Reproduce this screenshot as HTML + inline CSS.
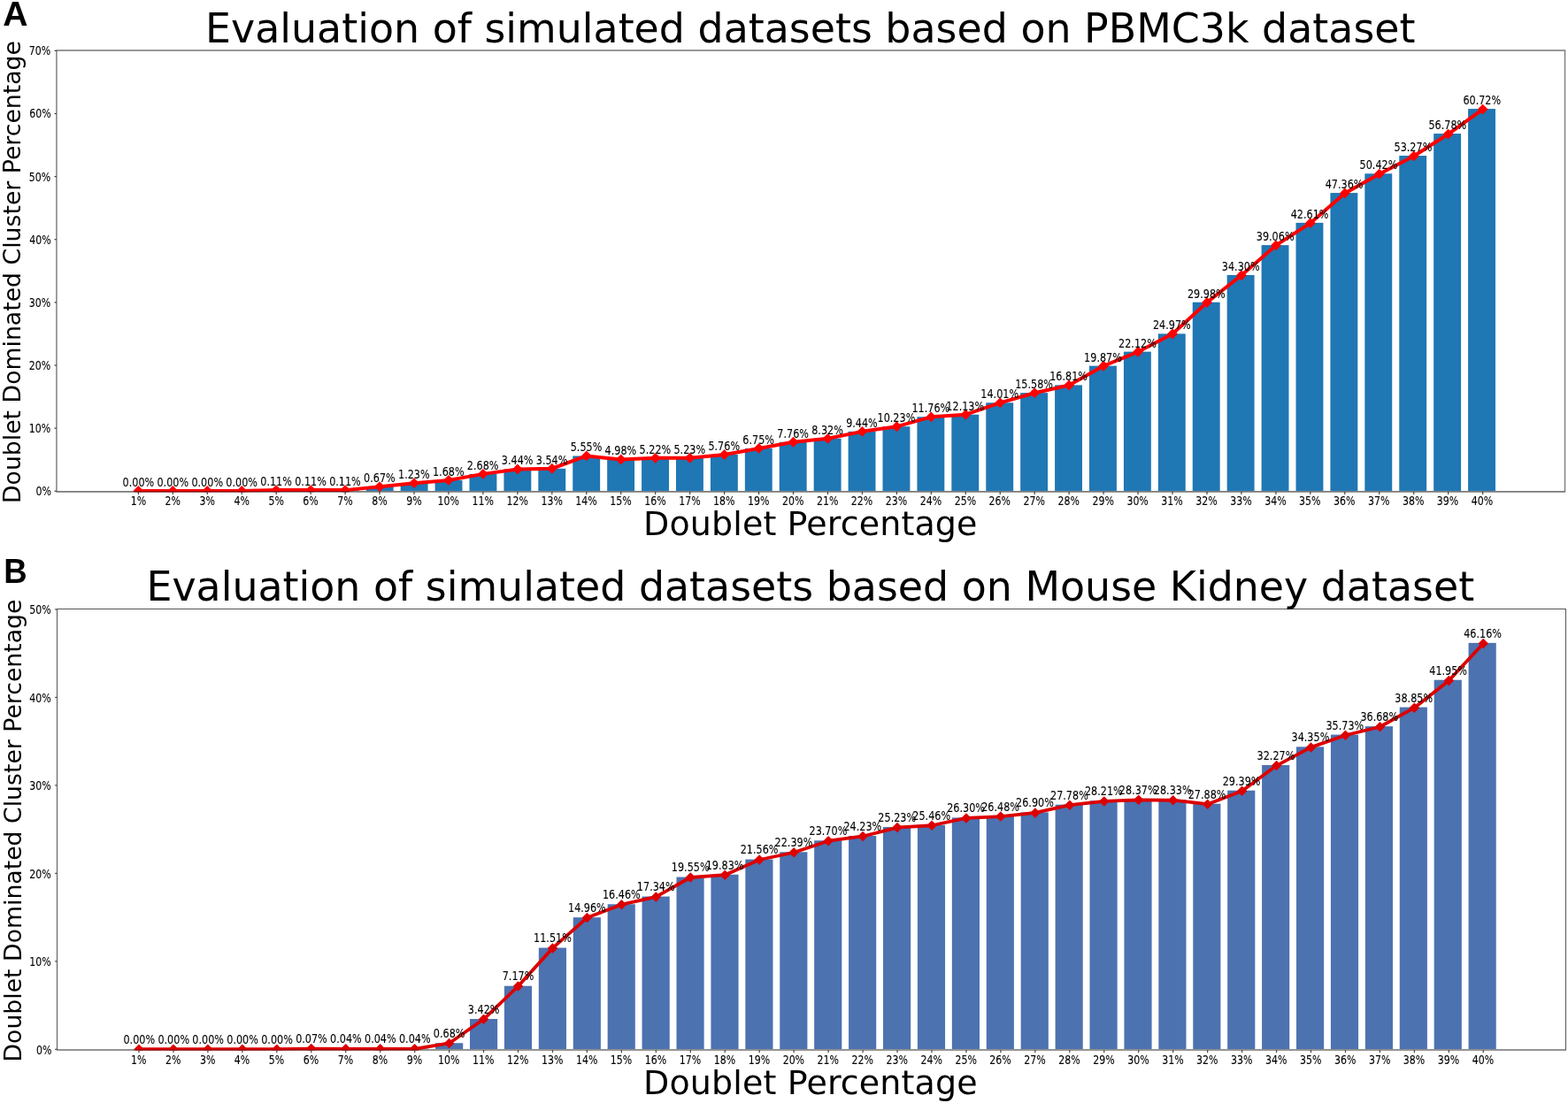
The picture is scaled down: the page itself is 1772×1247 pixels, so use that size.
<!DOCTYPE html>
<html lang="en">
<head>
<meta charset="utf-8">
<title>Evaluation of simulated datasets</title>
<style>
html,body{margin:0;padding:0;background:#fff;}
body{width:1772px;height:1247px;overflow:hidden;}
svg{display:block;}
text{font-family:"DejaVu Sans","Liberation Sans",sans-serif;fill:#000;}
.sm text{fill:#000;stroke:#000;}
.L{font-family:"Liberation Sans","DejaVu Sans",sans-serif;font-weight:bold;}
</style>
</head>
<body>
<svg width="1772" height="1247" viewBox="0 0 1772 1247" role="img" aria-label="Evaluation of simulated datasets: doublet dominated cluster percentage versus doublet percentage">
<rect width="1772" height="1247" fill="#fff"/>
<clipPath id="clip1"><rect x="63.92" y="57.05" width="1704.63" height="499.3"/></clipPath>
<g fill="#1f77b4">
<rect x="297" y="554.17" width="30.9" height="0.78"/>
<rect x="335.92" y="554.17" width="30.9" height="0.78"/>
<rect x="374.83" y="554.17" width="30.9" height="0.78"/>
<rect x="413.75" y="550.18" width="30.9" height="4.77"/>
<rect x="452.67" y="546.2" width="30.9" height="8.75"/>
<rect x="491.58" y="543" width="30.9" height="11.95"/>
<rect x="530.5" y="535.89" width="30.9" height="19.06"/>
<rect x="569.42" y="530.48" width="30.9" height="24.47"/>
<rect x="608.33" y="529.77" width="30.9" height="25.18"/>
<rect x="647.25" y="515.47" width="30.9" height="39.48"/>
<rect x="686.17" y="519.53" width="30.9" height="35.42"/>
<rect x="725.08" y="517.82" width="30.9" height="37.13"/>
<rect x="764" y="517.75" width="30.9" height="37.2"/>
<rect x="802.92" y="513.98" width="30.9" height="40.97"/>
<rect x="841.84" y="506.94" width="30.9" height="48.01"/>
<rect x="880.75" y="499.75" width="30.9" height="55.2"/>
<rect x="919.67" y="495.77" width="30.9" height="59.18"/>
<rect x="958.59" y="487.8" width="30.9" height="67.15"/>
<rect x="997.5" y="482.18" width="30.9" height="72.77"/>
<rect x="1036.42" y="471.3" width="30.9" height="83.65"/>
<rect x="1075.34" y="468.67" width="30.9" height="86.28"/>
<rect x="1114.26" y="455.3" width="30.9" height="99.65"/>
<rect x="1153.17" y="444.13" width="30.9" height="110.82"/>
<rect x="1192.09" y="435.38" width="30.9" height="119.57"/>
<rect x="1231.01" y="413.61" width="30.9" height="141.34"/>
<rect x="1269.92" y="397.61" width="30.9" height="157.34"/>
<rect x="1308.84" y="377.34" width="30.9" height="177.61"/>
<rect x="1347.76" y="341.7" width="30.9" height="213.25"/>
<rect x="1386.67" y="310.97" width="30.9" height="243.98"/>
<rect x="1425.59" y="277.12" width="30.9" height="277.83"/>
<rect x="1464.51" y="251.87" width="30.9" height="303.08"/>
<rect x="1503.42" y="218.08" width="30.9" height="336.87"/>
<rect x="1542.34" y="196.31" width="30.9" height="358.64"/>
<rect x="1581.26" y="176.04" width="30.9" height="378.91"/>
<rect x="1620.18" y="151.07" width="30.9" height="403.88"/>
<rect x="1659.09" y="123.05" width="30.9" height="431.9"/>
</g>
<g stroke="#767676" fill="none">
<line x1="63.22" y1="555.85" x2="1769.2" y2="555.85" stroke-width="1.7" stroke="#7a7a7a"/>
<line x1="63.22" y1="57.05" x2="1769.2" y2="57.05" stroke-width="1.4"/>
<line x1="63.92" y1="57.05" x2="63.92" y2="555.85" stroke-width="1.4"/>
<line x1="1768.55" y1="57.05" x2="1768.55" y2="555.85" stroke-width="1.3"/>
</g>
<g clip-path="url(#clip1)">
<polyline points="156.35,554.9 195.31,554.9 234.26,554.9 273.22,554.9 312.17,554.12 351.13,554.12 390.09,554.12 429.04,550.14 468,546.16 506.95,542.97 545.91,535.86 584.87,530.46 623.82,529.75 662.78,515.47 701.73,519.52 740.69,517.82 779.65,517.75 818.6,513.98 857.56,506.95 896.51,499.77 935.47,495.79 974.43,487.84 1013.38,482.23 1052.34,471.36 1091.29,468.73 1130.25,455.37 1169.21,444.22 1208.16,435.48 1247.12,413.74 1286.07,397.76 1325.03,377.51 1363.99,341.92 1402.94,311.23 1441.9,277.42 1480.85,252.2 1519.81,218.45 1558.77,196.72 1597.72,176.47 1636.68,151.53 1675.63,123.55" fill="none" stroke="#ff0000" stroke-width="4" stroke-linejoin="round" stroke-linecap="butt"/>
<g fill="#ff0000">
<path d="M156.35 549L162.25 554.9L156.35 560.8L150.45 554.9Z"/>
<path d="M195.31 549L201.21 554.9L195.31 560.8L189.41 554.9Z"/>
<path d="M234.26 549L240.16 554.9L234.26 560.8L228.36 554.9Z"/>
<path d="M273.22 549L279.12 554.9L273.22 560.8L267.32 554.9Z"/>
<path d="M312.17 548.22L318.07 554.12L312.17 560.02L306.27 554.12Z"/>
<path d="M351.13 548.22L357.03 554.12L351.13 560.02L345.23 554.12Z"/>
<path d="M390.09 548.22L395.99 554.12L390.09 560.02L384.19 554.12Z"/>
<path d="M429.04 544.24L434.94 550.14L429.04 556.04L423.14 550.14Z"/>
<path d="M468 540.26L473.9 546.16L468 552.06L462.1 546.16Z"/>
<path d="M506.95 537.07L512.85 542.97L506.95 548.87L501.05 542.97Z"/>
<path d="M545.91 529.96L551.81 535.86L545.91 541.76L540.01 535.86Z"/>
<path d="M584.87 524.56L590.77 530.46L584.87 536.36L578.97 530.46Z"/>
<path d="M623.82 523.85L629.72 529.75L623.82 535.65L617.92 529.75Z"/>
<path d="M662.78 509.57L668.68 515.47L662.78 521.37L656.88 515.47Z"/>
<path d="M701.73 513.62L707.63 519.52L701.73 525.42L695.83 519.52Z"/>
<path d="M740.69 511.92L746.59 517.82L740.69 523.72L734.79 517.82Z"/>
<path d="M779.65 511.85L785.55 517.75L779.65 523.65L773.75 517.75Z"/>
<path d="M818.6 508.08L824.5 513.98L818.6 519.88L812.7 513.98Z"/>
<path d="M857.56 501.05L863.46 506.95L857.56 512.85L851.66 506.95Z"/>
<path d="M896.51 493.87L902.41 499.77L896.51 505.67L890.61 499.77Z"/>
<path d="M935.47 489.89L941.37 495.79L935.47 501.69L929.57 495.79Z"/>
<path d="M974.43 481.94L980.33 487.84L974.43 493.74L968.53 487.84Z"/>
<path d="M1013.38 476.33L1019.28 482.23L1013.38 488.13L1007.48 482.23Z"/>
<path d="M1052.34 465.46L1058.24 471.36L1052.34 477.26L1046.44 471.36Z"/>
<path d="M1091.29 462.83L1097.19 468.73L1091.29 474.63L1085.39 468.73Z"/>
<path d="M1130.25 449.47L1136.15 455.37L1130.25 461.27L1124.35 455.37Z"/>
<path d="M1169.21 438.32L1175.11 444.22L1169.21 450.12L1163.31 444.22Z"/>
<path d="M1208.16 429.58L1214.06 435.48L1208.16 441.38L1202.26 435.48Z"/>
<path d="M1247.12 407.84L1253.02 413.74L1247.12 419.64L1241.22 413.74Z"/>
<path d="M1286.07 391.86L1291.97 397.76L1286.07 403.66L1280.17 397.76Z"/>
<path d="M1325.03 371.61L1330.93 377.51L1325.03 383.41L1319.13 377.51Z"/>
<path d="M1363.99 336.02L1369.89 341.92L1363.99 347.82L1358.09 341.92Z"/>
<path d="M1402.94 305.33L1408.84 311.23L1402.94 317.13L1397.04 311.23Z"/>
<path d="M1441.9 271.52L1447.8 277.42L1441.9 283.32L1436 277.42Z"/>
<path d="M1480.85 246.3L1486.75 252.2L1480.85 258.1L1474.95 252.2Z"/>
<path d="M1519.81 212.55L1525.71 218.45L1519.81 224.35L1513.91 218.45Z"/>
<path d="M1558.77 190.82L1564.67 196.72L1558.77 202.62L1552.87 196.72Z"/>
<path d="M1597.72 170.57L1603.62 176.47L1597.72 182.37L1591.82 176.47Z"/>
<path d="M1636.68 145.63L1642.58 151.53L1636.68 157.43L1630.78 151.53Z"/>
<path d="M1675.63 117.65L1681.53 123.55L1675.63 129.45L1669.73 123.55Z"/>
</g></g>
<clipPath id="band1"><rect x="63.92" y="555.25" width="1704.63" height="1.09"/></clipPath>
<g clip-path="url(#band1)" opacity="0.45">
<polyline points="156.35,554.9 195.31,554.9 234.26,554.9 273.22,554.9 312.17,554.12 351.13,554.12 390.09,554.12 429.04,550.14 468,546.16 506.95,542.97 545.91,535.86 584.87,530.46 623.82,529.75 662.78,515.47 701.73,519.52 740.69,517.82 779.65,517.75 818.6,513.98 857.56,506.95 896.51,499.77 935.47,495.79 974.43,487.84 1013.38,482.23 1052.34,471.36 1091.29,468.73 1130.25,455.37 1169.21,444.22 1208.16,435.48 1247.12,413.74 1286.07,397.76 1325.03,377.51 1363.99,341.92 1402.94,311.23 1441.9,277.42 1480.85,252.2 1519.81,218.45 1558.77,196.72 1597.72,176.47 1636.68,151.53 1675.63,123.55" fill="none" stroke="#000" stroke-width="4" stroke-linejoin="round"/>
<path d="M156.35 549L162.25 554.9L156.35 560.8L150.45 554.9Z"/>
<path d="M195.31 549L201.21 554.9L195.31 560.8L189.41 554.9Z"/>
<path d="M234.26 549L240.16 554.9L234.26 560.8L228.36 554.9Z"/>
<path d="M273.22 549L279.12 554.9L273.22 560.8L267.32 554.9Z"/>
<path d="M312.17 548.22L318.07 554.12L312.17 560.02L306.27 554.12Z"/>
<path d="M351.13 548.22L357.03 554.12L351.13 560.02L345.23 554.12Z"/>
<path d="M390.09 548.22L395.99 554.12L390.09 560.02L384.19 554.12Z"/>
<path d="M429.04 544.24L434.94 550.14L429.04 556.04L423.14 550.14Z"/>
</g>
<g stroke="#404040" stroke-width="1.2">
<line x1="156.35" y1="555.85" x2="156.35" y2="559.05"/>
<line x1="195.31" y1="555.85" x2="195.31" y2="559.05"/>
<line x1="234.26" y1="555.85" x2="234.26" y2="559.05"/>
<line x1="273.22" y1="555.85" x2="273.22" y2="559.05"/>
<line x1="312.17" y1="555.85" x2="312.17" y2="559.05"/>
<line x1="351.13" y1="555.85" x2="351.13" y2="559.05"/>
<line x1="390.09" y1="555.85" x2="390.09" y2="559.05"/>
<line x1="429.04" y1="555.85" x2="429.04" y2="559.05"/>
<line x1="468" y1="555.85" x2="468" y2="559.05"/>
<line x1="506.95" y1="555.85" x2="506.95" y2="559.05"/>
<line x1="545.91" y1="555.85" x2="545.91" y2="559.05"/>
<line x1="584.87" y1="555.85" x2="584.87" y2="559.05"/>
<line x1="623.82" y1="555.85" x2="623.82" y2="559.05"/>
<line x1="662.78" y1="555.85" x2="662.78" y2="559.05"/>
<line x1="701.73" y1="555.85" x2="701.73" y2="559.05"/>
<line x1="740.69" y1="555.85" x2="740.69" y2="559.05"/>
<line x1="779.65" y1="555.85" x2="779.65" y2="559.05"/>
<line x1="818.6" y1="555.85" x2="818.6" y2="559.05"/>
<line x1="857.56" y1="555.85" x2="857.56" y2="559.05"/>
<line x1="896.51" y1="555.85" x2="896.51" y2="559.05"/>
<line x1="935.47" y1="555.85" x2="935.47" y2="559.05"/>
<line x1="974.43" y1="555.85" x2="974.43" y2="559.05"/>
<line x1="1013.38" y1="555.85" x2="1013.38" y2="559.05"/>
<line x1="1052.34" y1="555.85" x2="1052.34" y2="559.05"/>
<line x1="1091.29" y1="555.85" x2="1091.29" y2="559.05"/>
<line x1="1130.25" y1="555.85" x2="1130.25" y2="559.05"/>
<line x1="1169.21" y1="555.85" x2="1169.21" y2="559.05"/>
<line x1="1208.16" y1="555.85" x2="1208.16" y2="559.05"/>
<line x1="1247.12" y1="555.85" x2="1247.12" y2="559.05"/>
<line x1="1286.07" y1="555.85" x2="1286.07" y2="559.05"/>
<line x1="1325.03" y1="555.85" x2="1325.03" y2="559.05"/>
<line x1="1363.99" y1="555.85" x2="1363.99" y2="559.05"/>
<line x1="1402.94" y1="555.85" x2="1402.94" y2="559.05"/>
<line x1="1441.9" y1="555.85" x2="1441.9" y2="559.05"/>
<line x1="1480.85" y1="555.85" x2="1480.85" y2="559.05"/>
<line x1="1519.81" y1="555.85" x2="1519.81" y2="559.05"/>
<line x1="1558.77" y1="555.85" x2="1558.77" y2="559.05"/>
<line x1="1597.72" y1="555.85" x2="1597.72" y2="559.05"/>
<line x1="1636.68" y1="555.85" x2="1636.68" y2="559.05"/>
<line x1="1675.63" y1="555.85" x2="1675.63" y2="559.05"/>
<line x1="61.52" y1="555.25" x2="63.92" y2="555.25"/>
<line x1="61.52" y1="484.12" x2="63.92" y2="484.12"/>
<line x1="61.52" y1="412.99" x2="63.92" y2="412.99"/>
<line x1="61.52" y1="341.86" x2="63.92" y2="341.86"/>
<line x1="61.52" y1="270.73" x2="63.92" y2="270.73"/>
<line x1="61.52" y1="199.6" x2="63.92" y2="199.6"/>
<line x1="61.52" y1="128.47" x2="63.92" y2="128.47"/>
<line x1="61.52" y1="57.34" x2="63.92" y2="57.34"/>
</g>
<g class="sm" font-size="13.2" stroke-width="0.1">
<text transform="translate(156.35 570.75) scale(0.834 1)" text-anchor="middle">1%</text>
<text transform="translate(195.29 570.75) scale(0.834 1)" text-anchor="middle">2%</text>
<text transform="translate(234.23 570.75) scale(0.834 1)" text-anchor="middle">3%</text>
<text transform="translate(273.17 570.75) scale(0.834 1)" text-anchor="middle">4%</text>
<text transform="translate(312.11 570.75) scale(0.834 1)" text-anchor="middle">5%</text>
<text transform="translate(351.05 570.75) scale(0.834 1)" text-anchor="middle">6%</text>
<text transform="translate(389.99 570.75) scale(0.834 1)" text-anchor="middle">7%</text>
<text transform="translate(428.93 570.75) scale(0.834 1)" text-anchor="middle">8%</text>
<text transform="translate(467.87 570.75) scale(0.834 1)" text-anchor="middle">9%</text>
<text transform="translate(506.81 570.75) scale(0.834 1)" text-anchor="middle">10%</text>
<text transform="translate(545.75 570.75) scale(0.834 1)" text-anchor="middle">11%</text>
<text transform="translate(584.69 570.75) scale(0.834 1)" text-anchor="middle">12%</text>
<text transform="translate(623.63 570.75) scale(0.834 1)" text-anchor="middle">13%</text>
<text transform="translate(662.57 570.75) scale(0.834 1)" text-anchor="middle">14%</text>
<text transform="translate(701.51 570.75) scale(0.834 1)" text-anchor="middle">15%</text>
<text transform="translate(740.45 570.75) scale(0.834 1)" text-anchor="middle">16%</text>
<text transform="translate(779.39 570.75) scale(0.834 1)" text-anchor="middle">17%</text>
<text transform="translate(818.33 570.75) scale(0.834 1)" text-anchor="middle">18%</text>
<text transform="translate(857.27 570.75) scale(0.834 1)" text-anchor="middle">19%</text>
<text transform="translate(896.21 570.75) scale(0.834 1)" text-anchor="middle">20%</text>
<text transform="translate(935.15 570.75) scale(0.834 1)" text-anchor="middle">21%</text>
<text transform="translate(974.09 570.75) scale(0.834 1)" text-anchor="middle">22%</text>
<text transform="translate(1013.03 570.75) scale(0.834 1)" text-anchor="middle">23%</text>
<text transform="translate(1051.97 570.75) scale(0.834 1)" text-anchor="middle">24%</text>
<text transform="translate(1090.91 570.75) scale(0.834 1)" text-anchor="middle">25%</text>
<text transform="translate(1129.85 570.75) scale(0.834 1)" text-anchor="middle">26%</text>
<text transform="translate(1168.79 570.75) scale(0.834 1)" text-anchor="middle">27%</text>
<text transform="translate(1207.73 570.75) scale(0.834 1)" text-anchor="middle">28%</text>
<text transform="translate(1246.67 570.75) scale(0.834 1)" text-anchor="middle">29%</text>
<text transform="translate(1285.61 570.75) scale(0.834 1)" text-anchor="middle">30%</text>
<text transform="translate(1324.55 570.75) scale(0.834 1)" text-anchor="middle">31%</text>
<text transform="translate(1363.49 570.75) scale(0.834 1)" text-anchor="middle">32%</text>
<text transform="translate(1402.43 570.75) scale(0.834 1)" text-anchor="middle">33%</text>
<text transform="translate(1441.37 570.75) scale(0.834 1)" text-anchor="middle">34%</text>
<text transform="translate(1480.31 570.75) scale(0.834 1)" text-anchor="middle">35%</text>
<text transform="translate(1519.25 570.75) scale(0.834 1)" text-anchor="middle">36%</text>
<text transform="translate(1558.19 570.75) scale(0.834 1)" text-anchor="middle">37%</text>
<text transform="translate(1597.13 570.75) scale(0.834 1)" text-anchor="middle">38%</text>
<text transform="translate(1636.07 570.75) scale(0.834 1)" text-anchor="middle">39%</text>
<text transform="translate(1675.01 570.75) scale(0.834 1)" text-anchor="middle">40%</text>
<text transform="translate(58 560.15) scale(0.834 1)" text-anchor="end">0%</text>
<text transform="translate(57.2 489.02) scale(0.834 1)" text-anchor="end">10%</text>
<text transform="translate(57.2 417.89) scale(0.834 1)" text-anchor="end">20%</text>
<text transform="translate(57.2 346.76) scale(0.834 1)" text-anchor="end">30%</text>
<text transform="translate(57.6 275.63) scale(0.834 1)" text-anchor="end">40%</text>
<text transform="translate(57.2 204.5) scale(0.834 1)" text-anchor="end">50%</text>
<text transform="translate(57.6 133.37) scale(0.834 1)" text-anchor="end">60%</text>
<text transform="translate(57.2 62.24) scale(0.834 1)" text-anchor="end">70%</text>
<text transform="translate(156.35 549.9) scale(0.850 1)" text-anchor="middle">0.00%</text>
<text transform="translate(195.28 549.9) scale(0.850 1)" text-anchor="middle">0.00%</text>
<text transform="translate(234.22 549.9) scale(0.850 1)" text-anchor="middle">0.00%</text>
<text transform="translate(273.15 549.9) scale(0.850 1)" text-anchor="middle">0.00%</text>
<text transform="translate(312.09 549.12) scale(0.850 1)" text-anchor="middle">0.11%</text>
<text transform="translate(351.02 549.12) scale(0.850 1)" text-anchor="middle">0.11%</text>
<text transform="translate(389.95 549.12) scale(0.850 1)" text-anchor="middle">0.11%</text>
<text transform="translate(428.89 545.14) scale(0.850 1)" text-anchor="middle">0.67%</text>
<text transform="translate(467.82 541.15) scale(0.850 1)" text-anchor="middle">1.23%</text>
<text transform="translate(506.76 537.95) scale(0.850 1)" text-anchor="middle">1.68%</text>
<text transform="translate(545.69 530.84) scale(0.850 1)" text-anchor="middle">2.68%</text>
<text transform="translate(584.62 525.44) scale(0.850 1)" text-anchor="middle">3.44%</text>
<text transform="translate(623.56 524.73) scale(0.850 1)" text-anchor="middle">3.54%</text>
<text transform="translate(662.49 510.43) scale(0.850 1)" text-anchor="middle">5.55%</text>
<text transform="translate(701.43 514.49) scale(0.850 1)" text-anchor="middle">4.98%</text>
<text transform="translate(740.36 512.78) scale(0.850 1)" text-anchor="middle">5.22%</text>
<text transform="translate(779.29 512.71) scale(0.850 1)" text-anchor="middle">5.23%</text>
<text transform="translate(818.23 508.94) scale(0.850 1)" text-anchor="middle">5.76%</text>
<text transform="translate(857.16 501.9) scale(0.850 1)" text-anchor="middle">6.75%</text>
<text transform="translate(896.1 494.72) scale(0.850 1)" text-anchor="middle">7.76%</text>
<text transform="translate(935.03 490.74) scale(0.850 1)" text-anchor="middle">8.32%</text>
<text transform="translate(973.96 482.77) scale(0.850 1)" text-anchor="middle">9.44%</text>
<text transform="translate(1012.9 477.15) scale(0.850 1)" text-anchor="middle">10.23%</text>
<text transform="translate(1051.83 466.27) scale(0.850 1)" text-anchor="middle">11.76%</text>
<text transform="translate(1090.77 463.64) scale(0.850 1)" text-anchor="middle">12.13%</text>
<text transform="translate(1129.7 450.27) scale(0.850 1)" text-anchor="middle">14.01%</text>
<text transform="translate(1168.63 439.11) scale(0.850 1)" text-anchor="middle">15.58%</text>
<text transform="translate(1207.57 430.36) scale(0.850 1)" text-anchor="middle">16.81%</text>
<text transform="translate(1246.5 408.6) scale(0.850 1)" text-anchor="middle">19.87%</text>
<text transform="translate(1285.44 392.6) scale(0.850 1)" text-anchor="middle">22.12%</text>
<text transform="translate(1324.37 372.34) scale(0.850 1)" text-anchor="middle">24.97%</text>
<text transform="translate(1363.3 336.71) scale(0.850 1)" text-anchor="middle">29.98%</text>
<text transform="translate(1402.24 305.99) scale(0.850 1)" text-anchor="middle">34.30%</text>
<text transform="translate(1441.17 272.14) scale(0.850 1)" text-anchor="middle">39.06%</text>
<text transform="translate(1480.11 246.9) scale(0.850 1)" text-anchor="middle">42.61%</text>
<text transform="translate(1519.04 213.12) scale(0.850 1)" text-anchor="middle">47.36%</text>
<text transform="translate(1557.97 191.36) scale(0.850 1)" text-anchor="middle">50.42%</text>
<text transform="translate(1596.91 171.1) scale(0.850 1)" text-anchor="middle">53.27%</text>
<text transform="translate(1635.84 146.14) scale(0.850 1)" text-anchor="middle">56.78%</text>
<text transform="translate(1674.78 118.12) scale(0.850 1)" text-anchor="middle">60.72%</text>
</g>
<text class="t" x="915.8" y="47.75" font-size="45.87" text-anchor="middle">Evaluation of simulated datasets based on PBMC3k dataset</text>
<text class="t" x="915.8" y="604.9" font-size="38" letter-spacing="0.12" text-anchor="middle">Doublet Percentage</text>
<text class="t" transform="translate(23.1 307.5) rotate(-90)" font-size="26.71" text-anchor="middle">Doublet Dominated Cluster Percentage</text>
<clipPath id="clip2"><rect x="64.5" y="688.5" width="1705" height="499"/></clipPath>
<g fill="#4c72b0">
<rect x="336.41" y="1185.3" width="31.15" height="0.8"/>
<rect x="375.33" y="1185.6" width="31.15" height="0.5"/>
<rect x="414.24" y="1185.6" width="31.15" height="0.5"/>
<rect x="453.16" y="1185.6" width="31.15" height="0.5"/>
<rect x="492.08" y="1179.24" width="31.15" height="6.86"/>
<rect x="531" y="1151.98" width="31.15" height="34.12"/>
<rect x="569.91" y="1114.68" width="31.15" height="71.42"/>
<rect x="608.83" y="1071.51" width="31.15" height="114.59"/>
<rect x="647.75" y="1037.19" width="31.15" height="148.91"/>
<rect x="686.66" y="1022.27" width="31.15" height="163.83"/>
<rect x="725.58" y="1013.52" width="31.15" height="172.58"/>
<rect x="764.5" y="991.54" width="31.15" height="194.56"/>
<rect x="803.41" y="988.75" width="31.15" height="197.35"/>
<rect x="842.33" y="971.54" width="31.15" height="214.56"/>
<rect x="881.25" y="963.29" width="31.15" height="222.81"/>
<rect x="920.16" y="950.26" width="31.15" height="235.84"/>
<rect x="959.08" y="944.98" width="31.15" height="241.12"/>
<rect x="998" y="935.04" width="31.15" height="251.06"/>
<rect x="1036.92" y="932.75" width="31.15" height="253.35"/>
<rect x="1075.83" y="924.39" width="31.15" height="261.71"/>
<rect x="1114.75" y="922.6" width="31.15" height="263.5"/>
<rect x="1153.67" y="918.43" width="31.15" height="267.67"/>
<rect x="1192.58" y="909.67" width="31.15" height="276.43"/>
<rect x="1231.5" y="905.4" width="31.15" height="280.7"/>
<rect x="1270.42" y="903.8" width="31.15" height="282.3"/>
<rect x="1309.34" y="904.2" width="31.15" height="281.9"/>
<rect x="1348.25" y="908.68" width="31.15" height="277.42"/>
<rect x="1387.17" y="893.66" width="31.15" height="292.44"/>
<rect x="1426.09" y="865.01" width="31.15" height="321.09"/>
<rect x="1465" y="844.32" width="31.15" height="341.78"/>
<rect x="1503.92" y="830.59" width="31.15" height="355.51"/>
<rect x="1542.84" y="821.14" width="31.15" height="364.96"/>
<rect x="1581.75" y="799.56" width="31.15" height="386.54"/>
<rect x="1620.67" y="768.72" width="31.15" height="417.38"/>
<rect x="1659.59" y="726.85" width="31.15" height="459.25"/>
</g>
<g stroke="#555555" fill="none">
<line x1="64" y1="1187" x2="1770" y2="1187" stroke-width="1.5" stroke="#707070"/>
<line x1="64" y1="688.5" x2="1770" y2="688.5" stroke-width="1.1"/>
<line x1="64.5" y1="688.5" x2="64.5" y2="1187" stroke-width="1"/>
<line x1="1769.5" y1="688.5" x2="1769.5" y2="1187" stroke-width="1"/>
</g>
<g clip-path="url(#clip2)">
<polyline points="157,1186.25 195.96,1186.25 234.91,1186.25 273.87,1186.25 312.82,1186.25 351.78,1185.55 390.74,1185.85 429.69,1185.85 468.65,1185.85 507.6,1179.49 546.56,1152.27 585.52,1115 624.47,1071.88 663.43,1037.59 702.38,1022.69 741.34,1013.94 780.3,991.98 819.25,989.2 858.21,972.01 897.16,963.76 936.12,950.74 975.08,945.48 1014.03,935.54 1052.99,933.25 1091.94,924.91 1130.9,923.12 1169.86,918.94 1208.81,910.2 1247.77,905.93 1286.72,904.34 1325.68,904.73 1364.64,909.21 1403.59,894.2 1442.55,865.58 1481.5,844.91 1520.46,831.2 1559.42,821.76 1598.37,800.2 1637.33,769.39 1676.28,727.56" fill="none" stroke="#dc0000" stroke-width="3.8" stroke-linejoin="round" stroke-linecap="butt"/>
<g fill="#dc0000">
<path d="M157 1180.5L162.75 1186.25L157 1192L151.25 1186.25Z"/>
<path d="M195.96 1180.5L201.71 1186.25L195.96 1192L190.21 1186.25Z"/>
<path d="M234.91 1180.5L240.66 1186.25L234.91 1192L229.16 1186.25Z"/>
<path d="M273.87 1180.5L279.62 1186.25L273.87 1192L268.12 1186.25Z"/>
<path d="M312.82 1180.5L318.57 1186.25L312.82 1192L307.07 1186.25Z"/>
<path d="M351.78 1179.8L357.53 1185.55L351.78 1191.3L346.03 1185.55Z"/>
<path d="M390.74 1180.1L396.49 1185.85L390.74 1191.6L384.99 1185.85Z"/>
<path d="M429.69 1180.1L435.44 1185.85L429.69 1191.6L423.94 1185.85Z"/>
<path d="M468.65 1180.1L474.4 1185.85L468.65 1191.6L462.9 1185.85Z"/>
<path d="M507.6 1173.74L513.35 1179.49L507.6 1185.24L501.85 1179.49Z"/>
<path d="M546.56 1146.52L552.31 1152.27L546.56 1158.02L540.81 1152.27Z"/>
<path d="M585.52 1109.25L591.27 1115L585.52 1120.75L579.77 1115Z"/>
<path d="M624.47 1066.13L630.22 1071.88L624.47 1077.63L618.72 1071.88Z"/>
<path d="M663.43 1031.84L669.18 1037.59L663.43 1043.34L657.68 1037.59Z"/>
<path d="M702.38 1016.94L708.13 1022.69L702.38 1028.44L696.63 1022.69Z"/>
<path d="M741.34 1008.19L747.09 1013.94L741.34 1019.69L735.59 1013.94Z"/>
<path d="M780.3 986.23L786.05 991.98L780.3 997.73L774.55 991.98Z"/>
<path d="M819.25 983.45L825 989.2L819.25 994.95L813.5 989.2Z"/>
<path d="M858.21 966.26L863.96 972.01L858.21 977.76L852.46 972.01Z"/>
<path d="M897.16 958.01L902.91 963.76L897.16 969.51L891.41 963.76Z"/>
<path d="M936.12 944.99L941.87 950.74L936.12 956.49L930.37 950.74Z"/>
<path d="M975.08 939.73L980.83 945.48L975.08 951.23L969.33 945.48Z"/>
<path d="M1014.03 929.79L1019.78 935.54L1014.03 941.29L1008.28 935.54Z"/>
<path d="M1052.99 927.5L1058.74 933.25L1052.99 939L1047.24 933.25Z"/>
<path d="M1091.94 919.16L1097.69 924.91L1091.94 930.66L1086.19 924.91Z"/>
<path d="M1130.9 917.37L1136.65 923.12L1130.9 928.87L1125.15 923.12Z"/>
<path d="M1169.86 913.19L1175.61 918.94L1169.86 924.69L1164.11 918.94Z"/>
<path d="M1208.81 904.45L1214.56 910.2L1208.81 915.95L1203.06 910.2Z"/>
<path d="M1247.77 900.18L1253.52 905.93L1247.77 911.68L1242.02 905.93Z"/>
<path d="M1286.72 898.59L1292.47 904.34L1286.72 910.09L1280.97 904.34Z"/>
<path d="M1325.68 898.98L1331.43 904.73L1325.68 910.48L1319.93 904.73Z"/>
<path d="M1364.64 903.46L1370.39 909.21L1364.64 914.96L1358.89 909.21Z"/>
<path d="M1403.59 888.45L1409.34 894.2L1403.59 899.95L1397.84 894.2Z"/>
<path d="M1442.55 859.83L1448.3 865.58L1442.55 871.33L1436.8 865.58Z"/>
<path d="M1481.5 839.16L1487.25 844.91L1481.5 850.66L1475.75 844.91Z"/>
<path d="M1520.46 825.45L1526.21 831.2L1520.46 836.95L1514.71 831.2Z"/>
<path d="M1559.42 816.01L1565.17 821.76L1559.42 827.51L1553.67 821.76Z"/>
<path d="M1598.37 794.45L1604.12 800.2L1598.37 805.95L1592.62 800.2Z"/>
<path d="M1637.33 763.64L1643.08 769.39L1637.33 775.14L1631.58 769.39Z"/>
<path d="M1676.28 721.81L1682.03 727.56L1676.28 733.31L1670.53 727.56Z"/>
</g></g>
<clipPath id="band2"><rect x="64.5" y="1186.47" width="1705" height="1.02"/></clipPath>
<g clip-path="url(#band2)" opacity="0.3">
<polyline points="157,1186.25 195.96,1186.25 234.91,1186.25 273.87,1186.25 312.82,1186.25 351.78,1185.55 390.74,1185.85 429.69,1185.85 468.65,1185.85 507.6,1179.49 546.56,1152.27 585.52,1115 624.47,1071.88 663.43,1037.59 702.38,1022.69 741.34,1013.94 780.3,991.98 819.25,989.2 858.21,972.01 897.16,963.76 936.12,950.74 975.08,945.48 1014.03,935.54 1052.99,933.25 1091.94,924.91 1130.9,923.12 1169.86,918.94 1208.81,910.2 1247.77,905.93 1286.72,904.34 1325.68,904.73 1364.64,909.21 1403.59,894.2 1442.55,865.58 1481.5,844.91 1520.46,831.2 1559.42,821.76 1598.37,800.2 1637.33,769.39 1676.28,727.56" fill="none" stroke="#000" stroke-width="3.8" stroke-linejoin="round"/>
<path d="M157 1180.5L162.75 1186.25L157 1192L151.25 1186.25Z"/>
<path d="M195.96 1180.5L201.71 1186.25L195.96 1192L190.21 1186.25Z"/>
<path d="M234.91 1180.5L240.66 1186.25L234.91 1192L229.16 1186.25Z"/>
<path d="M273.87 1180.5L279.62 1186.25L273.87 1192L268.12 1186.25Z"/>
<path d="M312.82 1180.5L318.57 1186.25L312.82 1192L307.07 1186.25Z"/>
<path d="M351.78 1179.8L357.53 1185.55L351.78 1191.3L346.03 1185.55Z"/>
<path d="M390.74 1180.1L396.49 1185.85L390.74 1191.6L384.99 1185.85Z"/>
<path d="M429.69 1180.1L435.44 1185.85L429.69 1191.6L423.94 1185.85Z"/>
<path d="M468.65 1180.1L474.4 1185.85L468.65 1191.6L462.9 1185.85Z"/>
</g>
<g stroke="#444444" stroke-width="1.2">
<line x1="157" y1="1187" x2="157" y2="1190.2"/>
<line x1="195.96" y1="1187" x2="195.96" y2="1190.2"/>
<line x1="234.91" y1="1187" x2="234.91" y2="1190.2"/>
<line x1="273.87" y1="1187" x2="273.87" y2="1190.2"/>
<line x1="312.82" y1="1187" x2="312.82" y2="1190.2"/>
<line x1="351.78" y1="1187" x2="351.78" y2="1190.2"/>
<line x1="390.74" y1="1187" x2="390.74" y2="1190.2"/>
<line x1="429.69" y1="1187" x2="429.69" y2="1190.2"/>
<line x1="468.65" y1="1187" x2="468.65" y2="1190.2"/>
<line x1="507.6" y1="1187" x2="507.6" y2="1190.2"/>
<line x1="546.56" y1="1187" x2="546.56" y2="1190.2"/>
<line x1="585.52" y1="1187" x2="585.52" y2="1190.2"/>
<line x1="624.47" y1="1187" x2="624.47" y2="1190.2"/>
<line x1="663.43" y1="1187" x2="663.43" y2="1190.2"/>
<line x1="702.38" y1="1187" x2="702.38" y2="1190.2"/>
<line x1="741.34" y1="1187" x2="741.34" y2="1190.2"/>
<line x1="780.3" y1="1187" x2="780.3" y2="1190.2"/>
<line x1="819.25" y1="1187" x2="819.25" y2="1190.2"/>
<line x1="858.21" y1="1187" x2="858.21" y2="1190.2"/>
<line x1="897.16" y1="1187" x2="897.16" y2="1190.2"/>
<line x1="936.12" y1="1187" x2="936.12" y2="1190.2"/>
<line x1="975.08" y1="1187" x2="975.08" y2="1190.2"/>
<line x1="1014.03" y1="1187" x2="1014.03" y2="1190.2"/>
<line x1="1052.99" y1="1187" x2="1052.99" y2="1190.2"/>
<line x1="1091.94" y1="1187" x2="1091.94" y2="1190.2"/>
<line x1="1130.9" y1="1187" x2="1130.9" y2="1190.2"/>
<line x1="1169.86" y1="1187" x2="1169.86" y2="1190.2"/>
<line x1="1208.81" y1="1187" x2="1208.81" y2="1190.2"/>
<line x1="1247.77" y1="1187" x2="1247.77" y2="1190.2"/>
<line x1="1286.72" y1="1187" x2="1286.72" y2="1190.2"/>
<line x1="1325.68" y1="1187" x2="1325.68" y2="1190.2"/>
<line x1="1364.64" y1="1187" x2="1364.64" y2="1190.2"/>
<line x1="1403.59" y1="1187" x2="1403.59" y2="1190.2"/>
<line x1="1442.55" y1="1187" x2="1442.55" y2="1190.2"/>
<line x1="1481.5" y1="1187" x2="1481.5" y2="1190.2"/>
<line x1="1520.46" y1="1187" x2="1520.46" y2="1190.2"/>
<line x1="1559.42" y1="1187" x2="1559.42" y2="1190.2"/>
<line x1="1598.37" y1="1187" x2="1598.37" y2="1190.2"/>
<line x1="1637.33" y1="1187" x2="1637.33" y2="1190.2"/>
<line x1="1676.28" y1="1187" x2="1676.28" y2="1190.2"/>
<line x1="62.1" y1="1186.3" x2="64.5" y2="1186.3"/>
<line x1="62.1" y1="1086.83" x2="64.5" y2="1086.83"/>
<line x1="62.1" y1="987.36" x2="64.5" y2="987.36"/>
<line x1="62.1" y1="887.89" x2="64.5" y2="887.89"/>
<line x1="62.1" y1="788.42" x2="64.5" y2="788.42"/>
<line x1="62.1" y1="688.95" x2="64.5" y2="688.95"/>
</g>
<g class="sm" font-size="13.2" stroke-width="0.1">
<text transform="translate(156.7 1202.5) scale(0.834 1)" text-anchor="middle">1%</text>
<text transform="translate(195.66 1202.5) scale(0.834 1)" text-anchor="middle">2%</text>
<text transform="translate(234.61 1202.5) scale(0.834 1)" text-anchor="middle">3%</text>
<text transform="translate(273.57 1202.5) scale(0.834 1)" text-anchor="middle">4%</text>
<text transform="translate(312.52 1202.5) scale(0.834 1)" text-anchor="middle">5%</text>
<text transform="translate(351.48 1202.5) scale(0.834 1)" text-anchor="middle">6%</text>
<text transform="translate(390.44 1202.5) scale(0.834 1)" text-anchor="middle">7%</text>
<text transform="translate(429.39 1202.5) scale(0.834 1)" text-anchor="middle">8%</text>
<text transform="translate(468.35 1202.5) scale(0.834 1)" text-anchor="middle">9%</text>
<text transform="translate(507.3 1202.5) scale(0.834 1)" text-anchor="middle">10%</text>
<text transform="translate(546.26 1202.5) scale(0.834 1)" text-anchor="middle">11%</text>
<text transform="translate(585.22 1202.5) scale(0.834 1)" text-anchor="middle">12%</text>
<text transform="translate(624.17 1202.5) scale(0.834 1)" text-anchor="middle">13%</text>
<text transform="translate(663.13 1202.5) scale(0.834 1)" text-anchor="middle">14%</text>
<text transform="translate(702.08 1202.5) scale(0.834 1)" text-anchor="middle">15%</text>
<text transform="translate(741.04 1202.5) scale(0.834 1)" text-anchor="middle">16%</text>
<text transform="translate(780 1202.5) scale(0.834 1)" text-anchor="middle">17%</text>
<text transform="translate(818.95 1202.5) scale(0.834 1)" text-anchor="middle">18%</text>
<text transform="translate(857.91 1202.5) scale(0.834 1)" text-anchor="middle">19%</text>
<text transform="translate(896.86 1202.5) scale(0.834 1)" text-anchor="middle">20%</text>
<text transform="translate(935.82 1202.5) scale(0.834 1)" text-anchor="middle">21%</text>
<text transform="translate(974.78 1202.5) scale(0.834 1)" text-anchor="middle">22%</text>
<text transform="translate(1013.73 1202.5) scale(0.834 1)" text-anchor="middle">23%</text>
<text transform="translate(1052.69 1202.5) scale(0.834 1)" text-anchor="middle">24%</text>
<text transform="translate(1091.64 1202.5) scale(0.834 1)" text-anchor="middle">25%</text>
<text transform="translate(1130.6 1202.5) scale(0.834 1)" text-anchor="middle">26%</text>
<text transform="translate(1169.56 1202.5) scale(0.834 1)" text-anchor="middle">27%</text>
<text transform="translate(1208.51 1202.5) scale(0.834 1)" text-anchor="middle">28%</text>
<text transform="translate(1247.47 1202.5) scale(0.834 1)" text-anchor="middle">29%</text>
<text transform="translate(1286.42 1202.5) scale(0.834 1)" text-anchor="middle">30%</text>
<text transform="translate(1325.38 1202.5) scale(0.834 1)" text-anchor="middle">31%</text>
<text transform="translate(1364.34 1202.5) scale(0.834 1)" text-anchor="middle">32%</text>
<text transform="translate(1403.29 1202.5) scale(0.834 1)" text-anchor="middle">33%</text>
<text transform="translate(1442.25 1202.5) scale(0.834 1)" text-anchor="middle">34%</text>
<text transform="translate(1481.2 1202.5) scale(0.834 1)" text-anchor="middle">35%</text>
<text transform="translate(1520.16 1202.5) scale(0.834 1)" text-anchor="middle">36%</text>
<text transform="translate(1559.12 1202.5) scale(0.834 1)" text-anchor="middle">37%</text>
<text transform="translate(1598.07 1202.5) scale(0.834 1)" text-anchor="middle">38%</text>
<text transform="translate(1637.03 1202.5) scale(0.834 1)" text-anchor="middle">39%</text>
<text transform="translate(1675.98 1202.5) scale(0.834 1)" text-anchor="middle">40%</text>
<text transform="translate(58.4 1191.75) scale(0.834 1)" text-anchor="end">0%</text>
<text transform="translate(57.8 1092.28) scale(0.834 1)" text-anchor="end">10%</text>
<text transform="translate(57.8 992.81) scale(0.834 1)" text-anchor="end">20%</text>
<text transform="translate(57.8 893.34) scale(0.834 1)" text-anchor="end">30%</text>
<text transform="translate(57.8 793.87) scale(0.834 1)" text-anchor="end">40%</text>
<text transform="translate(57.8 693.7) scale(0.834 1)" text-anchor="end">50%</text>
<text transform="translate(157.3 1179.7) scale(0.850 1)" text-anchor="middle">0.00%</text>
<text transform="translate(196.23 1179.7) scale(0.850 1)" text-anchor="middle">0.00%</text>
<text transform="translate(235.16 1179.7) scale(0.850 1)" text-anchor="middle">0.00%</text>
<text transform="translate(274.09 1179.7) scale(0.850 1)" text-anchor="middle">0.00%</text>
<text transform="translate(313.02 1179.7) scale(0.850 1)" text-anchor="middle">0.00%</text>
<text transform="translate(351.95 1179) scale(0.850 1)" text-anchor="middle">0.07%</text>
<text transform="translate(390.88 1179.3) scale(0.850 1)" text-anchor="middle">0.04%</text>
<text transform="translate(429.81 1179.3) scale(0.850 1)" text-anchor="middle">0.04%</text>
<text transform="translate(468.74 1179.3) scale(0.850 1)" text-anchor="middle">0.04%</text>
<text transform="translate(507.67 1172.94) scale(0.850 1)" text-anchor="middle">0.68%</text>
<text transform="translate(546.6 1145.71) scale(0.850 1)" text-anchor="middle">3.42%</text>
<text transform="translate(585.53 1108.44) scale(0.850 1)" text-anchor="middle">7.17%</text>
<text transform="translate(624.46 1065.31) scale(0.850 1)" text-anchor="middle">11.51%</text>
<text transform="translate(663.39 1031.03) scale(0.850 1)" text-anchor="middle">14.96%</text>
<text transform="translate(702.32 1016.12) scale(0.850 1)" text-anchor="middle">16.46%</text>
<text transform="translate(741.25 1007.38) scale(0.850 1)" text-anchor="middle">17.34%</text>
<text transform="translate(780.18 985.41) scale(0.850 1)" text-anchor="middle">19.55%</text>
<text transform="translate(819.11 982.63) scale(0.850 1)" text-anchor="middle">19.83%</text>
<text transform="translate(858.04 965.44) scale(0.850 1)" text-anchor="middle">21.56%</text>
<text transform="translate(896.97 957.19) scale(0.850 1)" text-anchor="middle">22.39%</text>
<text transform="translate(935.9 944.17) scale(0.850 1)" text-anchor="middle">23.70%</text>
<text transform="translate(974.83 938.9) scale(0.850 1)" text-anchor="middle">24.23%</text>
<text transform="translate(1013.76 928.96) scale(0.850 1)" text-anchor="middle">25.23%</text>
<text transform="translate(1052.69 926.68) scale(0.850 1)" text-anchor="middle">25.46%</text>
<text transform="translate(1091.62 918.33) scale(0.850 1)" text-anchor="middle">26.30%</text>
<text transform="translate(1130.55 916.54) scale(0.850 1)" text-anchor="middle">26.48%</text>
<text transform="translate(1169.48 912.37) scale(0.850 1)" text-anchor="middle">26.90%</text>
<text transform="translate(1208.41 903.62) scale(0.850 1)" text-anchor="middle">27.78%</text>
<text transform="translate(1247.34 899.35) scale(0.850 1)" text-anchor="middle">28.21%</text>
<text transform="translate(1286.27 897.76) scale(0.850 1)" text-anchor="middle">28.37%</text>
<text transform="translate(1325.2 898.16) scale(0.850 1)" text-anchor="middle">28.33%</text>
<text transform="translate(1364.13 902.63) scale(0.850 1)" text-anchor="middle">27.88%</text>
<text transform="translate(1403.06 887.62) scale(0.850 1)" text-anchor="middle">29.39%</text>
<text transform="translate(1441.99 859) scale(0.850 1)" text-anchor="middle">32.27%</text>
<text transform="translate(1480.92 838.33) scale(0.850 1)" text-anchor="middle">34.35%</text>
<text transform="translate(1519.85 824.62) scale(0.850 1)" text-anchor="middle">35.73%</text>
<text transform="translate(1558.78 815.17) scale(0.850 1)" text-anchor="middle">36.68%</text>
<text transform="translate(1597.71 793.61) scale(0.850 1)" text-anchor="middle">38.85%</text>
<text transform="translate(1636.64 762.8) scale(0.850 1)" text-anchor="middle">41.95%</text>
<text transform="translate(1675.57 720.96) scale(0.850 1)" text-anchor="middle">46.16%</text>
</g>
<text class="t" x="915.8" y="679.1" font-size="45.87" text-anchor="middle">Evaluation of simulated datasets based on Mouse Kidney dataset</text>
<text class="t" x="915.9" y="1236.8" font-size="38" letter-spacing="0.12" text-anchor="middle">Doublet Percentage</text>
<text class="t" transform="translate(23.9 939) rotate(-90)" font-size="26.71" text-anchor="middle">Doublet Dominated Cluster Percentage</text>
<text class="L" transform="translate(3.35 29.1) scale(1.03 1)" font-size="38">A</text>
<text class="L" transform="translate(4.3 658.9) scale(0.962 1)" font-size="38">B</text>
</svg>
</body>
</html>
